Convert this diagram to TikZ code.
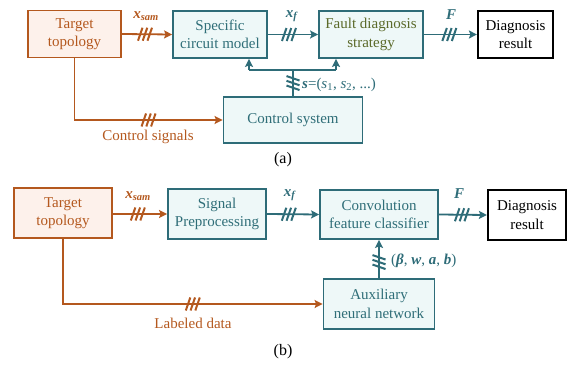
\documentclass[tikz,border=0pt]{standalone}
\usepackage{fontspec}
\setmainfont{Liberation Serif}
\usetikzlibrary{arrows.meta,calc}

\definecolor{tealline}{HTML}{2E6C78}
\definecolor{tealfill}{HTML}{EEF8F8}
\definecolor{tealtext}{HTML}{2F6E78}
\definecolor{brownline}{HTML}{B4581E}
\definecolor{brownfill}{HTML}{FDF1EB}
\definecolor{olivetext}{HTML}{5B6A2A}

\newcommand{\bvar}[1]{\textbf{\textit{#1}}}

\tikzset{
  every node/.style={font=\fontsize{15}{18.5}\selectfont, align=center, inner sep=0pt},
  tealbox/.style={draw=tealline, fill=tealfill, line width=1.8pt, text=tealtext},
  brownbox/.style={draw=brownline, fill=brownfill, line width=1.8pt, text=brownline},
  resultbox/.style={draw=black, fill=white, line width=2.2pt, text=black},
  tealarrow/.style={draw=tealline, line width=1.8pt, -{Stealth[length=8pt,width=8pt,inset=1.5pt]}},
  brownarrow/.style={draw=brownline, line width=1.8pt, -{Stealth[length=8pt,width=8pt,inset=1.5pt]}},
  tealwire/.style={draw=tealline, line width=1.8pt},
  brownwire/.style={draw=brownline, line width=1.8pt},
  triplehash/.pic={
    \draw[line width=2pt, arrows=-, line cap=butt]
      (-7pt,-6.5pt) -- (-2.5pt,6.5pt)
      (-2.25pt,-6.5pt) -- (2.25pt,6.5pt)
      (2.5pt,-6.5pt) -- (7pt,6.5pt);
  }
}

\begin{document}
\begin{tikzpicture}[x=1pt, y=-1pt]
\useasboundingbox (0,0) rectangle (567,366);

% ---------------- (a) ----------------
\node[brownbox, minimum width=93pt, minimum height=47pt] (tta) at (74.5,34) {Target\\topology};
\node[tealbox, minimum width=94pt, minimum height=47pt] (scm) at (220,34.5) {Specific\\circuit model};
\node[tealbox, minimum width=104pt, minimum height=47pt, text=olivetext] (fds) at (371,34.5) {Fault diagnosis\\strategy};
\node[resultbox, minimum width=75pt, minimum height=47pt] (dra) at (515.5,34.5) {Diagnosis\\result};
\node[tealbox, minimum width=139pt, minimum height=46pt] (cs) at (293,120) {Control system};

% forward signal path
\draw[brownarrow] (tta.east) -- (scm.west) pic[brownline, pos=0.46] {triplehash};
\node[text=brownline] (lxsam) at (146,16) {\bvar{x}\textsubscript{\bvar{sam}}};
\draw[tealarrow] (scm.east) -- (fds.west) pic[tealline, pos=0.42] {triplehash};
\node[text=tealline] (lxf) at (292,16) {\bvar{x}\textsubscript{\bvar{f}}};
\draw[tealarrow] (fds.east) -- (dra.west) pic[tealline, pos=0.48] {triplehash};
\node[text=tealline] (lF) at (451,15) {\bvar{F}};

% control signals to the control system
\coordinate (csbend) at (74.5,120);
\draw[brownarrow] (tta.south) -- (csbend) -- (cs.west) pic[brownline, pos=0.5] {triplehash};
\node[text=brownline] (lcs) at (148,137) {Control signals};

% switching states fed back to the models
\coordinate (ja) at (249,70);
\coordinate (jb) at (336,70);
\coordinate (jc) at (293,70);
\draw[tealwire] (cs.north) -- (jc) pic[tealline, pos=0.5, rotate=90] {triplehash};
\draw[tealwire] (ja) -- (jb);
\draw[tealarrow] (ja) -- (ja |- scm.south);
\draw[tealarrow] (jb) -- (jb |- fds.south);
\node[text=tealline, anchor=west] (ls) at (302,85) {\bvar{s}=(\textit{s}\textsubscript{1}, \textit{s}\textsubscript{2}, ...)};

\node (capa) at (283,160) {\fontsize{16}{19}\selectfont(a)};

% ---------------- (b) ----------------
\node[brownbox, minimum width=98pt, minimum height=50pt] (ttb) at (63,213) {Target\\topology};
\node[tealbox, minimum width=98pt, minimum height=50pt] (sp) at (217,214) {Signal\\Preprocessing};
\node[tealbox, minimum width=118pt, minimum height=49pt] (cfc) at (379,214.5) {Convolution\\feature classifier};
\node[resultbox, minimum width=78pt, minimum height=50pt] (drb) at (527,215) {Diagnosis\\result};
\node[tealbox, minimum width=111pt, minimum height=50pt] (ann) at (379,304) {Auxiliary\\neural network};

\draw[brownarrow] (ttb.east |- sp.west) -- (sp.west) pic[brownline, pos=0.46] {triplehash};
\node[text=brownline] (lxsamb) at (138,196) {\bvar{x}\textsubscript{\bvar{sam}}};
\draw[tealarrow] (sp.east) -- (cfc.west) pic[tealline, pos=0.42] {triplehash};
\node[text=tealline] (lxfb) at (290,195) {\bvar{x}\textsubscript{\bvar{f}}};
\draw[tealarrow] (cfc.east) -- (drb.west) pic[tealline, pos=0.48] {triplehash};
\node[text=tealline] (lFb) at (459,194) {\bvar{F}};

\coordinate (ldbend) at (63,304);
\draw[brownarrow] (ttb.south) -- (ldbend) -- (ann.west) pic[brownline, pos=0.5] {triplehash};
\node[text=brownline] (lld) at (193,323) {Labeled data};

\draw[tealarrow] (ann.north) -- (cfc.south) pic[tealline, pos=0.42, rotate=90] {triplehash};
\node[text=tealline, anchor=west] (lparams) at (391,261) {(\bvar{β}, \bvar{w}, \bvar{a}, \bvar{b})};

\node (capb) at (283,352) {\fontsize{16}{19}\selectfont(b)};
\end{tikzpicture}
\end{document}
